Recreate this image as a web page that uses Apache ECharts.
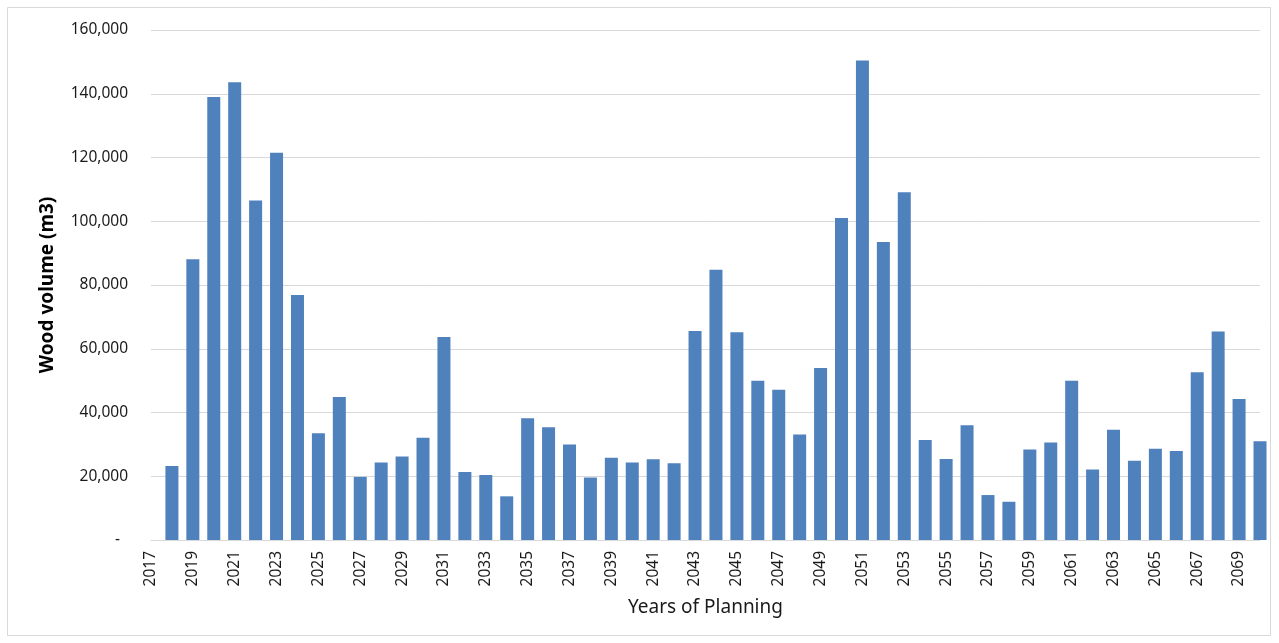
<!DOCTYPE html>
<html>
<head>
<meta charset="utf-8">
<script src="https://cdn.jsdelivr.net/npm/echarts@6/dist/echarts.min.js"></script>
<style>
  html, body { margin: 0; padding: 0; background: #ffffff; }
  #chart { width: 1279px; height: 643px; }
</style>
</head>
<body>
<div id="chart"></div>
<script>
// Planning years on the category axis
const years = [
  '2017','2018','2019','2020','2021','2022','2023','2024','2025','2026',
  '2027','2028','2029','2030','2031','2032','2033','2034','2035','2036',
  '2037','2038','2039','2040','2041','2042','2043','2044','2045','2046',
  '2047','2048','2049','2050','2051','2052','2053','2054','2055','2056',
  '2057','2058','2059','2060','2061','2062','2063','2064','2065','2066',
  '2067','2068','2069','2070'
];

// Harvested wood volume per year (m3)
const woodVolume = [
  0, 23200, 88100, 139000, 143600, 106500, 121500, 76900, 33500, 44900,
  19800, 24300, 26200, 32100, 63700, 21300, 20400, 13700, 38200, 35400,
  30000, 19600, 25800, 24300, 25300, 24100, 65600, 84800, 65200, 50000,
  47100, 33100, 54000, 101000, 150400, 93500, 109100, 31400, 25400, 36000,
  14100, 12000, 28400, 30600, 50000, 22100, 34600, 24900, 28600, 27900,
  52600, 65400, 44200, 31000
];

// Value axis range and step
const yMin = 0;
const yMax = 160000;
const yStep = 20000;

const axisTitleX = 'Years of Planning';
const axisTitleY = 'Wood volume (m3)';

const FONT = 'Noto Sans';
const GRID_GREY = '#D9D9D9';
const BAR_BLUE = '#4F81BD';

// Accounting-style number: thousands separators, a dash for zero
function fmtAccounting(v) {
  if (v === 0) return '-  ';
  return v.toLocaleString('en-US');
}

const chart = echarts.init(document.getElementById('chart'), null, { renderer: 'canvas' });

chart.setOption({
  backgroundColor: '#ffffff',
  animation: false,
  graphic: [{
    type: 'rect',
    silent: true,
    shape: { x: 7.5, y: 7.5, width: 1263, height: 628 },
    style: { fill: 'none', stroke: GRID_GREY, lineWidth: 1 }
  }],
  grid: { left: 151, right: 19, top: 30, bottom: 103, containLabel: false },
  xAxis: {
    type: 'category',
    data: years,
    boundaryGap: false,
    name: axisTitleX,
    nameLocation: 'middle',
    nameGap: 58,
    nameTextStyle: { fontFamily: FONT, fontSize: 19, color: '#1a1a1a' },
    axisLine: { show: true, lineStyle: { color: GRID_GREY, width: 1 } },
    axisTick: { show: false },
    axisLabel: {
      rotate: 90,
      interval: 1,
      margin: 11,
      fontFamily: FONT,
      fontSize: 15.5,
      color: '#1a1a1a'
    },
    splitLine: { show: false }
  },
  yAxis: {
    type: 'value',
    min: yMin,
    max: yMax,
    interval: yStep,
    name: axisTitleY,
    nameLocation: 'middle',
    nameGap: 94,
    nameTextStyle: { fontFamily: FONT, fontSize: 19, fontWeight: 'bold', color: '#000000' },
    axisLine: { show: false },
    axisTick: { show: false },
    axisLabel: {
      margin: 23,
      fontFamily: FONT,
      fontSize: 15.5,
      color: '#1a1a1a',
      formatter: fmtAccounting
    },
    splitLine: { show: true, lineStyle: { color: GRID_GREY, width: 1 } }
  },
  series: [{
    type: 'bar',
    data: woodVolume,
    barWidth: 13,
    clip: true,
    itemStyle: { color: BAR_BLUE },
    emphasis: { disabled: true }
  }]
});
</script>
</body>
</html>
